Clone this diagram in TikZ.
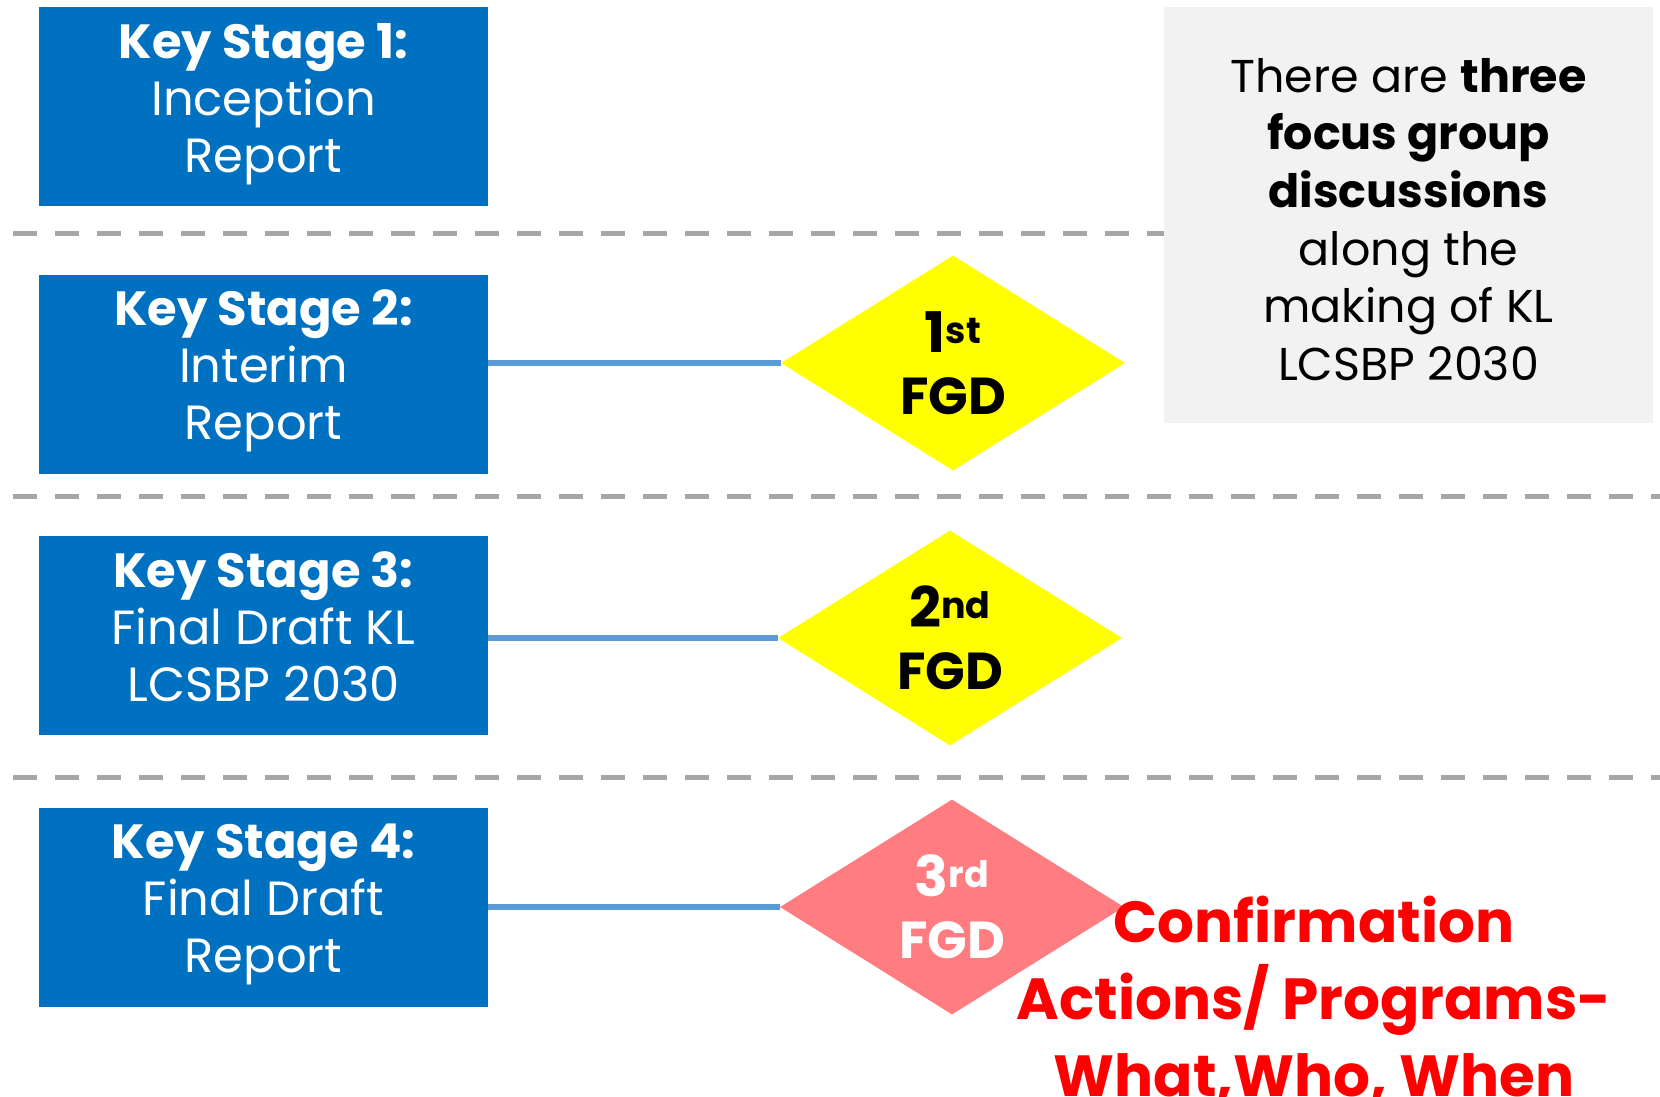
\documentclass[tikz,border=0pt]{standalone}
\usepackage{fontspec}
\setmainfont{Poppins}
\usetikzlibrary{shapes.geometric}
\definecolor{boxblue}{HTML}{0070C0}
\definecolor{lineblue}{HTML}{5B9BD5}
\definecolor{dashgray}{HTML}{A6A6A6}
\definecolor{panelgray}{HTML}{F2F2F2}
\definecolor{fgdpink}{HTML}{FF7C80}
\definecolor{fgdyellow}{HTML}{FFFF00}
\definecolor{alertred}{HTML}{FF0000}
\newcommand{\lastdepth}{\rule[-18pt]{0pt}{18pt}}
\newcommand{\firstheight}{\rule{0pt}{43pt}}
\tikzset{
  stagebox/.style={rectangle, fill=boxblue, text=white, minimum width=449pt, minimum height=199pt,
    inner sep=0pt, align=center, font=\fontsize{48}{57}\selectfont},
  fgdshape/.style={diamond, minimum width=344pt, minimum height=215pt, inner sep=0pt,
    align=center, font=\fontsize{52}{62}\selectfont\bfseries},
  sepline/.style={draw=dashgray, line width=5pt, dash pattern=on 24pt off 18pt},
  link/.style={draw=lineblue, line width=6pt},
  panel/.style={rectangle, fill=panelgray, minimum width=489pt, minimum height=416pt, inner sep=0pt,
    align=center, font=\fontsize{46}{57.6}\selectfont},
  redtext/.style={text=alertred, align=center, inner sep=0pt, font=\fontsize{58}{77}\selectfont\bfseries}
}
\begin{document}
\begin{tikzpicture}[x=1pt,y=-1pt]
\useasboundingbox (0,0) rectangle (1660,1097);
\clip (0,0) rectangle (1660,1097);
% separators
\coordinate (l1a) at (13,233);  \coordinate (l1b) at (1170,233);
\coordinate (l2a) at (13,496);  \coordinate (l2b) at (1660,496);
\coordinate (l3a) at (13,777);  \coordinate (l3b) at (1660,777);
\draw[sepline] (l1a) -- (l1b);
\draw[sepline] (l2a) -- (l2b);
\draw[sepline] (l3a) -- (l3b);
% note panel
\node[panel] (note) at (1408.5,215) {\firstheight There are \textbf{three}\\ \textbf{focus group}\\ \textbf{discussions}\\ along the\\ making of KL\\ LCSBP 2030};
% stage boxes
\node[stagebox] (s1) at (263.5,106.5) {\textbf{Key Stage 1:}\\ Inception\\ Report\lastdepth};
\node[stagebox] (s2) at (263.5,374) {\textbf{Key Stage 2:}\\ Interim\\ Report\lastdepth};
\node[stagebox] (s3) at (263.5,635.5) {\textbf{Key Stage 3:}\\ Final Draft KL\\ LCSBP 2030\lastdepth};
\node[stagebox] (s4) at (263.5,907.5) {\textbf{Key Stage 4:}\\ Final Draft\\ Report\lastdepth};
% FGD diamonds
\node[fgdshape, fill=fgdyellow, text=black] (d1) at (953,363) {{\fontsize{56}{62}\selectfont 1}\textsuperscript{st}\\FGD};
\node[fgdshape, fill=fgdyellow, text=black] (d2) at (950,638) {{\fontsize{56}{62}\selectfont 2}\textsuperscript{nd}\\FGD};
\node[fgdshape, fill=fgdpink, text=white] (d3) at (952,907) {{\fontsize{56}{62}\selectfont 3}\textsuperscript{rd}\\FGD};
% links
\draw[link] (s2.east |- d1.west) -- (d1.west);
\draw[link] (s3.east |- d2.west) -- (d2.west);
\draw[link] (s4.east |- d3.west) -- (d3.west);
% red note
\node[redtext] (conf) at (1314,1000) {Confirmation\\ Actions/ Programs-\\ What,Who, When};
\end{tikzpicture}
\end{document}
